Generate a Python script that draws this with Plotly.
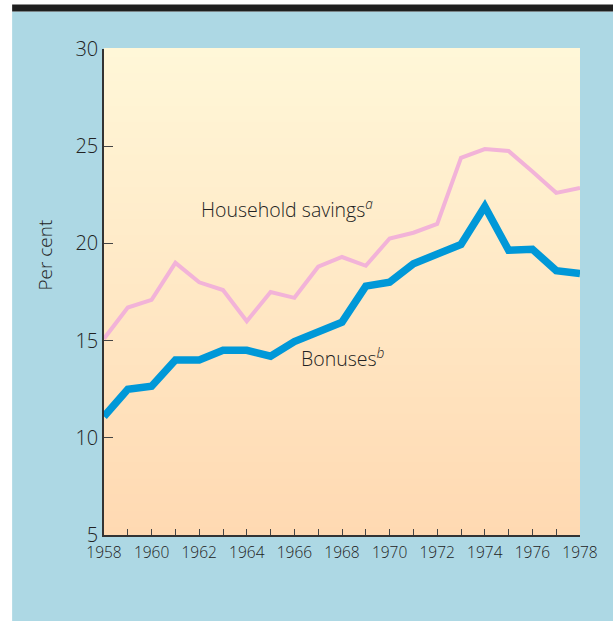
import plotly.graph_objects as go

years = list(range(1958, 1979))
household_savings = [15.1, 16.7, 17.1, 19.0, 18.0, 17.6, 16.0, 17.5, 17.2, 18.8, 19.3,
                     18.85, 20.25, 20.55, 21.0, 24.4, 24.85, 24.75, 23.7, 22.6, 22.85]
bonuses = [11.1, 12.5, 12.65, 14.0, 14.0, 14.5, 14.5, 14.2, 14.95, 15.45, 15.95,
           17.8, 18.0, 18.95, 19.45, 19.95, 21.9, 19.65, 19.7, 18.6, 18.45]
x_tick_labels = [str(y) for y in range(1958, 1979, 2)]
y_ticks = [5, 10, 15, 20, 25, 30]

FONT = "Open Sans"
TXT = "#222222"
W = 300

fig = go.Figure()
fig.add_trace(go.Scatter(x=years, y=household_savings, mode="lines",
                         line=dict(color="#F2B3D8", width=4), hoverinfo="skip"))
fig.add_trace(go.Scatter(x=years, y=bonuses, mode="lines",
                         line=dict(color="#0098D8", width=7.5), hoverinfo="skip"))

shapes = []
# light-blue panel and black top rule
shapes.append(dict(type="rect", xref="paper", yref="paper", x0=-0.193, x1=1.08,
                   y0=-0.18, y1=1.0773, fillcolor="#ADD8E4", line_width=0, layer="below"))
shapes.append(dict(type="rect", xref="paper", yref="paper", x0=-0.193, x1=1.08,
                   y0=1.0773, y1=1.0917, fillcolor="#1F1F1F", line_width=0, layer="below"))
# vertical gradient in plot area
n = 60
top = (255, 247, 216)
bot = (255, 217, 178)
for i in range(n):
    t = (i + 0.5) / n
    c = tuple(round(bot[k] + (top[k] - bot[k]) * t) for k in range(3))
    shapes.append(dict(type="rect", xref="x domain", yref="y domain", x0=0, x1=1,
                       y0=i / n, y1=(i + 1) / n + 0.002,
                       fillcolor="rgb(%d,%d,%d)" % c, line_width=0, layer="below"))

fig.update_layout(
    width=613, height=621,
    margin=dict(l=104, r=33, t=49, b=86),
    paper_bgcolor="white",
    plot_bgcolor="rgba(0,0,0,0)",
    showlegend=False,
    shapes=shapes,
    font=dict(family=FONT, color=TXT, weight=W),
    annotations=[
        dict(x=1962.0, y=21.8, xref="x", yref="y", xanchor="left", yanchor="middle",
             text="Household savings<sup><i>a</i></sup>", showarrow=False,
             font=dict(size=19.5, color=TXT, family=FONT, weight=W)),
        dict(x=1966.2, y=14.15, xref="x", yref="y", xanchor="left", yanchor="middle",
             text="Bonuses<sup><i>b</i></sup>", showarrow=False,
             font=dict(size=19.5, color=TXT, family=FONT, weight=W)),
        dict(x=-0.124, y=0.577, xref="paper", yref="paper", xanchor="center", yanchor="middle",
             text="Per cent", textangle=-90, showarrow=False,
             font=dict(size=19, color=TXT, family=FONT, weight=W)),
    ],
)
fig.update_xaxes(range=[1958, 1978], tickvals=list(range(1958, 1979, 2)),
                 ticktext=x_tick_labels, ticks="inside", ticklen=6, tickcolor="#444",
                 minor=dict(tickvals=list(range(1958, 1979)), ticks="inside", ticklen=6,
                            tickcolor="#444"),
                 showline=True, linecolor="#333", linewidth=1.5, showgrid=False,
                 zeroline=False, tickfont=dict(size=15.5, color=TXT, family=FONT, weight=W),
                 ticklabelstandoff=3, fixedrange=True)
fig.update_yaxes(range=[5, 30], tickvals=y_ticks, ticks="inside", ticklen=9,
                 tickcolor="#444", showline=True, linecolor="#333", linewidth=1.5,
                 showgrid=False, zeroline=False,
                 tickfont=dict(size=20, color=TXT, family=FONT, weight=W), fixedrange=True)

fig.write_html("out.html", config={"displayModeBar": False},
               post_script="document.body.style.margin='0';")
